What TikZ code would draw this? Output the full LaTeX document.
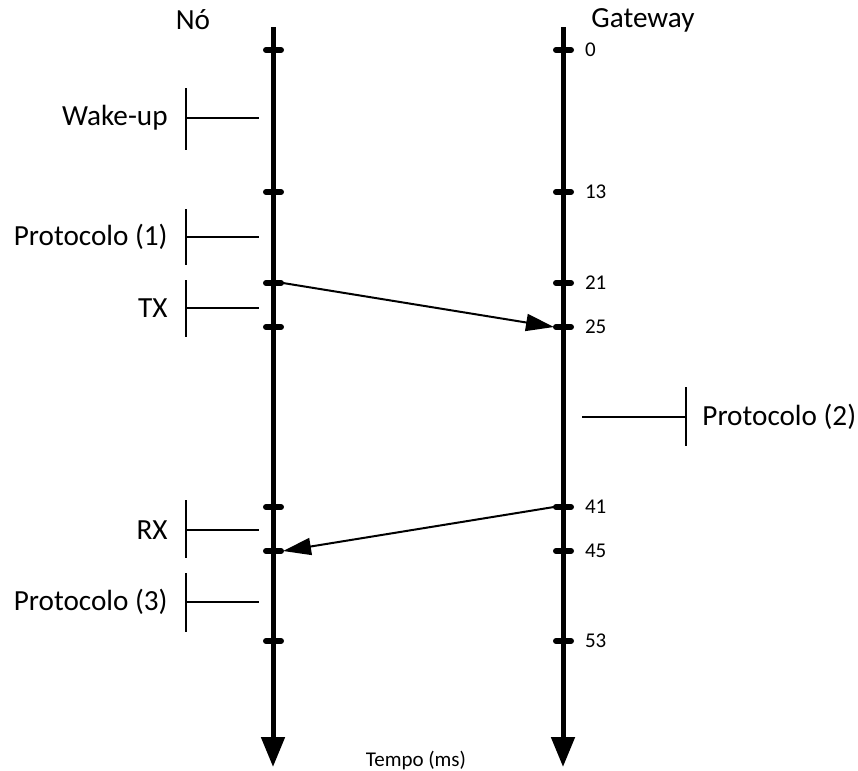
\documentclass[tikz,border=0pt]{standalone}
\usepackage{fontspec}
\setmainfont{Carlito}
\usetikzlibrary{arrows.meta}

\tikzset{
  timeline/.style={line width=2.5pt,-{Triangle[length=15pt,width=11.5pt]}},
  tickmark/.style={line width=3pt,line cap=round},
  bracket/.style={line width=1pt},
  message/.style={line width=1pt,-{Triangle[length=14pt,width=8.5pt]}},
  phase/.style={inner sep=0pt,font=\fontsize{14.6}{17}\selectfont},
  ticktext/.style={inner sep=0pt,anchor=west,font=\fontsize{10.5}{12}\selectfont}
}

\begin{document}
\begin{tikzpicture}[x=0.5pt,y=-0.5pt]
\useasboundingbox (0,0) rectangle (858,771);

%headers
\node[phase] (no) at (193,20) {Nó};
\node[phase] (gateway) at (643,20) {Gateway};
\node[inner sep=0pt,font=\fontsize{10.5}{12}\selectfont] (tempo) at (416,761) {Tempo (ms)};


%the two time lines
\coordinate (noTop) at (273,27);
\coordinate (noEnd) at (273,767);
\coordinate (gwTop) at (563,27);
\coordinate (gwEnd) at (563,767);
\draw[timeline] (noTop) -- (noEnd); %node line
\draw[timeline] (gwTop) -- (gwEnd); %gateway line


%ticks on node line
\draw[tickmark] (266,50)--(281,50);
\draw[tickmark] (266,192)--(281,192);
\draw[tickmark] (266,283)--(281,283);
\draw[tickmark] (266,327)--(281,327);
\draw[tickmark] (266,507)--(281,507);
\draw[tickmark] (266,551)--(281,551);
\draw[tickmark] (266,641)--(281,641);

%ticks on gateway line + times
\draw[tickmark] (556,50)--(571,50) node[ticktext] (t0) at (582,50) {0};
\draw[tickmark] (556,192)--(571,192) node[ticktext] (t13) at (582,192) {13};
\draw[tickmark] (556,283)--(571,283) node[ticktext] (t21) at (582,283) {21};
\draw[tickmark] (556,327)--(571,327) node[ticktext] (t25) at (582,327) {25};
\draw[tickmark] (556,507)--(571,507) node[ticktext] (t41) at (582,507) {41};
\draw[tickmark] (556,551)--(571,551) node[ticktext] (t45) at (582,551) {45};
\draw[tickmark] (556,641)--(571,641) node[ticktext] (t53) at (582,641) {53};


%phases of the node
\draw[bracket] (186,88)--(186,150);
\draw[bracket] (186,118)--(259,118);
\node[phase,anchor=east] (wakeup) at (168,118) {Wake-up};

\draw[bracket] (186,209)--(186,265);
\draw[bracket] (186,237)--(259,237);
\node[phase,anchor=east] (prot1) at (168,237) {Protocolo (1)};

\draw[bracket] (186,280)--(186,337);
\draw[bracket] (186,308)--(259,308);
\node[phase,anchor=east] (tx) at (168,308) {TX};

\draw[bracket] (186,500)--(186,558);
\draw[bracket] (186,530)--(259,530);
\node[phase,anchor=east] (rx) at (168,530) {RX};

\draw[bracket] (186,573)--(186,632);
\draw[bracket] (186,602)--(259,602);
\node[phase,anchor=east] (prot3) at (168,602) {Protocolo (3)};

%phase of the gateway
\draw[bracket] (686,387)--(686,446);
\draw[bracket] (582,417)--(686,417);
\node[phase,anchor=west] (prot2) at (702,417) {Protocolo (2)};


%messages
\coordinate (txStart) at (283,283);
\coordinate (txEnd) at (554,327);
\coordinate (rxStart) at (554,507);
\coordinate (rxEnd) at (283,551);
\draw[message] (txStart) -- (txEnd); %uplink
\draw[message] (rxStart) -- (rxEnd); %downlink

\end{tikzpicture}
\end{document}
